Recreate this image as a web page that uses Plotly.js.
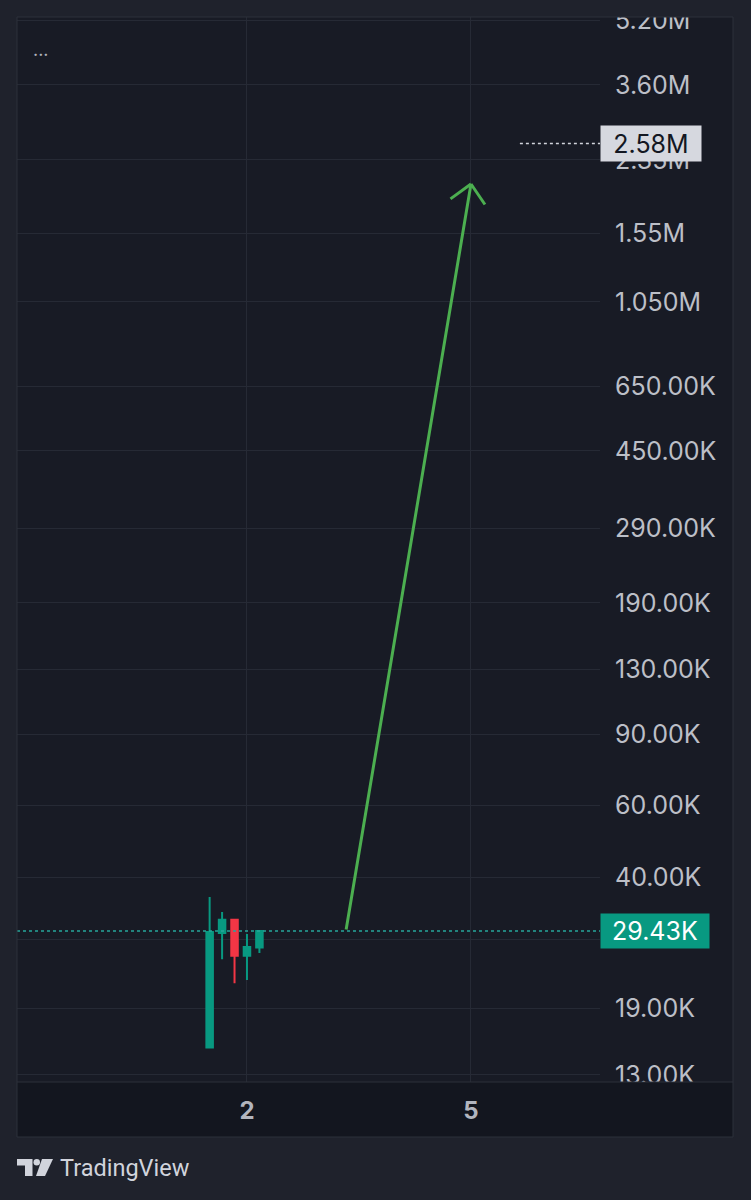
<!DOCTYPE html>
<html><head><meta charset="utf-8">
<script src="https://cdn.plot.ly/plotly-3.0.1.min.js"></script>
<style>html,body{margin:0;padding:0;background:#1f222c;}#chart{width:751px;height:1200px;}</style>
</head><body><div id="chart"></div><script>
// ---- data ----
const candleX = [1.5, 1.6667, 1.8333, 2.0, 2.1667];
const candleOpen = [15200, 29100, 31400, 25600, 26800];
const candleHigh = [35700, 32800, 31500, 28950, 29430];
const candleLow = [15100, 25100, 21900, 22300, 26000];
const candleClose = [29300, 31400, 25600, 26900, 29430];
const lastPrice = 29430;
const lastPriceText = '29.43K';
const targetPrice = 2580000;
const targetPriceText = '2.58M';
const targetLineStartX = 5.655;
const arrowStart = {x: 3.325, y: 29430};
const arrowEnd = {x: 5.0, y: 2050000};
const yTickVals = [5200000, 3600000, 2350000, 1550000, 1050000, 650000, 450000, 290000, 190000, 130000, 90000, 60000, 40000, 28000, 19000, 13000];
const yTickText = ['5.20M', '3.60M', '2.35M', '1.55M', '1.050M', '650.00K', '450.00K', '290.00K', '190.00K', '130.00K', '90.00K', '60.00K', '40.00K', '', '19.00K', '13.00K'];
const xTickVals = [2, 5];
const xTickText = ['2', '5'];

// ---- geometry helpers (pixel -> paper) ----
const L = 17, R = 600, T = 17, B = 1082;
const X = px => (px - L) / (R - L);
const Y = py => (B - py) / (B - T);
const xRange = [-1.080, 6.728];
const yRange = [4.0966, 6.7237];

const outerBg = '#1f222c', plotBg = '#181b25', timeBg = '#13161f', grid = '#262a35', border = '#2c303b';
const green = '#089981', red = '#f23645';
const labelFont = 'Inter, Roboto, sans-serif';

const traces = [
  {
    type: 'candlestick', x: candleX, open: candleOpen, high: candleHigh, low: candleLow, close: candleClose,
    increasing: {line: {color: green, width: 2}, fillcolor: green},
    decreasing: {line: {color: red, width: 2}, fillcolor: red},
    whiskerwidth: 0, hoverinfo: 'skip'
  },
  {
    type: 'scatter', mode: 'lines', x: [xRange[0], xRange[1]], y: [lastPrice, lastPrice],
    line: {color: '#26a69a', width: 1.5, dash: 'dot'}, hoverinfo: 'skip'
  },
  {
    type: 'scatter', mode: 'lines', x: [targetLineStartX, xRange[1]], y: [targetPrice, targetPrice],
    line: {color: '#d1d4dc', width: 1.5, dash: 'dot'}, hoverinfo: 'skip'
  }
];

const logoPath1 = `M${X(17)},${Y(1159)} L${X(32.5)},${Y(1159)} L${X(32.5)},${Y(1176)} L${X(25)},${Y(1176)} L${X(25)},${Y(1165.5)} L${X(17)},${Y(1165.5)} Z`;
const logoPath2 = `M${X(42)},${Y(1159)} L${X(53)},${Y(1159)} L${X(45)},${Y(1176)} L${X(36)},${Y(1176)} Z`;

const shapes = [
  {type: 'rect', xref: 'paper', yref: 'paper', x0: 0, x1: X(733), y0: Y(1137), y1: 1, fillcolor: plotBg, line: {width: 0}, layer: 'below'},
  {type: 'rect', xref: 'paper', yref: 'paper', x0: 0, x1: X(733), y0: Y(1137), y1: 0, fillcolor: timeBg, line: {width: 0}, layer: 'below'},
  // clip overflowing price-scale labels
  {type: 'rect', xref: 'paper', yref: 'paper', x0: X(595), x1: X(751), y0: Y(17), y1: Y(0), fillcolor: outerBg, line: {width: 0}, layer: 'above'},
  {type: 'rect', xref: 'paper', yref: 'paper', x0: 1, x1: X(733), y0: Y(1137), y1: 0, fillcolor: timeBg, line: {width: 0}, layer: 'above'},
  // panel border and time-axis divider
  {type: 'rect', xref: 'paper', yref: 'paper', x0: 0, x1: X(733), y0: Y(1137), y1: 1, line: {color: border, width: 1}, layer: 'above'},
  {type: 'line', xref: 'paper', yref: 'paper', x0: 0, x1: X(733), y0: 0, y1: 0, line: {color: border, width: 1}, layer: 'above'},
  // TradingView logo
  {type: 'path', xref: 'paper', yref: 'paper', path: logoPath1, fillcolor: '#d1d4dc', line: {width: 0}, layer: 'above'},
  {type: 'path', xref: 'paper', yref: 'paper', path: logoPath2, fillcolor: '#d1d4dc', line: {width: 0}, layer: 'above'},
  {type: 'circle', xref: 'paper', yref: 'paper', x0: X(33.5), x1: X(40), y0: Y(1165.5), y1: Y(1159), fillcolor: '#d1d4dc', line: {width: 0}, layer: 'above'}
];

const arrowColor = '#4caf50';
const annotations = [
  {xref: 'paper', yref: 'paper', x: X(31), y: Y(50), xanchor: 'left', yanchor: 'middle', text: '...', showarrow: false, font: {family: labelFont, size: 18, color: '#b2b5be'}},
  {xref: 'x', yref: 'y', x: arrowEnd.x, y: Math.log10(arrowEnd.y), axref: 'x', ayref: 'y', ax: arrowStart.x, ay: Math.log10(arrowStart.y), text: '', showarrow: true, arrowhead: 0, arrowwidth: 3, arrowcolor: arrowColor, standoff: 0, startstandoff: 0},
  {xref: 'x', yref: 'y', x: arrowEnd.x, y: Math.log10(arrowEnd.y), ax: -22, ay: 16, text: '', showarrow: true, arrowhead: 0, arrowwidth: 3, arrowcolor: arrowColor, standoff: 0},
  {xref: 'x', yref: 'y', x: arrowEnd.x, y: Math.log10(arrowEnd.y), ax: 15, ay: 22, text: '', showarrow: true, arrowhead: 0, arrowwidth: 3, arrowcolor: arrowColor, standoff: 0},
  {xref: 'paper', yref: 'y', x: 1, y: Math.log10(targetPrice), xanchor: 'left', yanchor: 'middle', text: targetPriceText, showarrow: false,
   bgcolor: '#d6d8df', font: {family: labelFont, size: 25, color: '#131722'}, width: 98, height: 33, borderpad: 1},
  {xref: 'paper', yref: 'y', x: 1, y: Math.log10(lastPrice), xanchor: 'left', yanchor: 'middle', text: lastPriceText, showarrow: false,
   bgcolor: green, font: {family: labelFont, size: 25, color: '#ffffff'}, width: 106, height: 32, borderpad: 1},
  {xref: 'paper', yref: 'paper', x: X(58), y: Y(1168), xanchor: 'left', yanchor: 'middle', text: 'TradingView', showarrow: false,
   font: {family: 'Roboto', size: 23.5, color: '#d1d4dc'}}
];

const layout = {
  width: 751, height: 1200,
  paper_bgcolor: outerBg, plot_bgcolor: plotBg,
  margin: {l: L, r: 751 - R, t: T, b: 1200 - B},
  showlegend: false, boxgap: 0.25, dragmode: false,
  xaxis: {range: xRange, tickvals: xTickVals, ticktext: xTickText, showgrid: true, gridcolor: grid, gridwidth: 1,
    zeroline: false, showline: false, ticks: '', ticklabelstandoff: 12,
    tickfont: {family: labelFont, size: 24, color: '#b2b5be', weight: 700}, rangeslider: {visible: false}, fixedrange: true},
  yaxis: {type: 'log', side: 'right', range: yRange, tickvals: yTickVals, ticktext: yTickText, showgrid: true, gridcolor: grid, gridwidth: 1,
    zeroline: false, showline: false, ticks: '', ticklabelstandoff: 14,
    tickfont: {family: labelFont, size: 25, color: '#bcbfc7'}, fixedrange: true},
  shapes: shapes, annotations: annotations
};

Plotly.newPlot('chart', traces, layout, {displayModeBar: false, staticPlot: true});
</script></body></html>
